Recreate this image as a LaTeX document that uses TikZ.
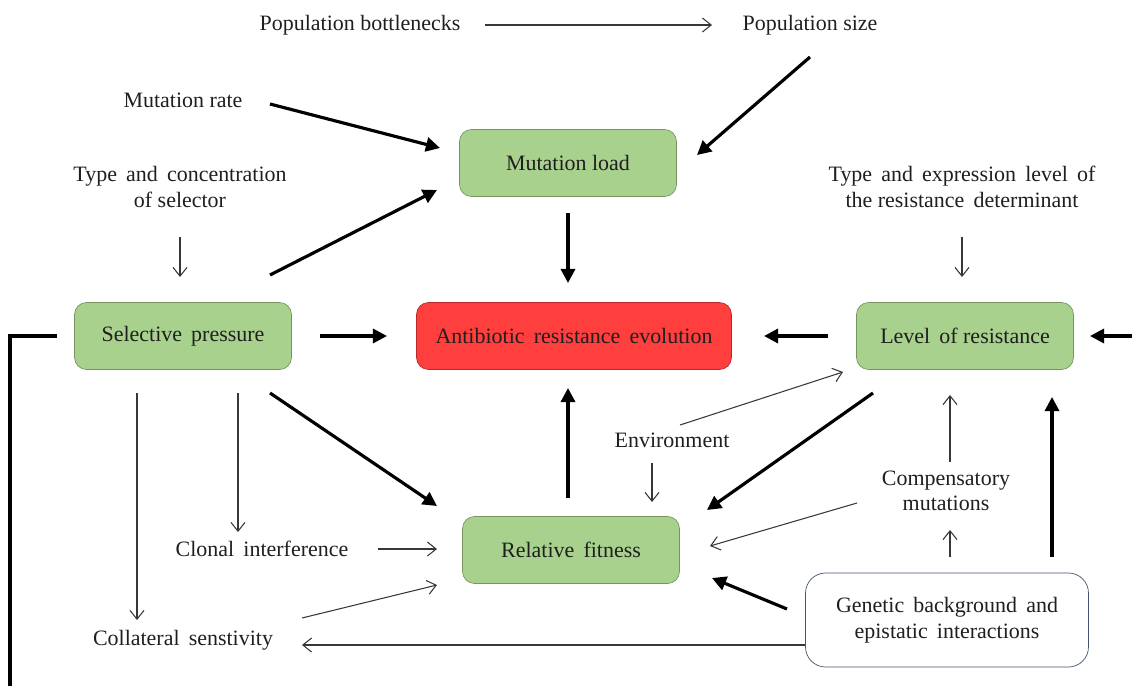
\documentclass[tikz,border=0pt]{standalone}
\usepackage{fontspec}
\setmainfont{Liberation Serif}
\usetikzlibrary{arrows.meta, positioning}
\definecolor{boxgreen}{RGB}{169,209,142}
\definecolor{boxgreenline}{RGB}{118,148,92}
\definecolor{boxred}{RGB}{255,62,62}
\definecolor{boxredline}{RGB}{185,40,40}
\definecolor{boxblueline}{RGB}{68,84,110}
\definecolor{thinline}{RGB}{55,55,55}

\begin{document}
\begin{tikzpicture}[x=0.02cm, y=-0.02cm,
    every node/.style={font=\fontsize{12.5}{14.5}\selectfont, text=black!88},
    factor/.style={align=center, inner sep=1pt},
    greenbox/.style={rectangle, rounded corners=0.24cm, draw=boxgreenline, fill=boxgreen, minimum width=4.34cm, minimum height=1.34cm},
    redbox/.style={greenbox, draw=boxredline, fill=boxred, minimum width=6.3cm},
    whitebox/.style={rectangle, rounded corners=0.4cm, draw=boxblueline, fill=white, align=center, minimum width=5.66cm, minimum height=1.88cm},
    thinarrow/.style={-{Straight Barb[length=5pt,width=8pt]}, line width=0.6pt, draw=thinline},
    thickarrow/.style={-{Triangle[length=8pt,width=8pt]}, line width=1.8pt},
    loopline/.style={-, line width=1.8pt}]
    \useasboundingbox (0,0) rectangle (1132,686);

    \node[factor] (popb) at (360, 25) {Population bottlenecks};
    \node[factor] (pops) at (810, 25) {Population size};
    \node[factor] (mrate) at (183, 100) {Mutation rate};
    \node[factor] (selector) at (180, 187) {Type\, and\, concentration\\of selector};
    \node[factor] (determ) at (962, 187) {Type\, and\, expression\, level\, of\\the resistance\, determinant};
    \node[greenbox] (mload) at (568, 163) {Mutation load};
    \node[greenbox] (selpress) at (183, 336) {Selective\, pressure};
    \node[redbox] (are) at (574, 336) {Antibiotic\, resistance\, evolution};
    \node[greenbox] (level) at (965, 336) {Level\, of resistance};
    \node[factor] (envir) at (672, 440) {Environment};
    \node[factor] (comp) at (946, 491) {Compensatory\\mutations};
    \node[factor] (clonal) at (262, 549) {Clonal\, interference};
    \node[greenbox] (relfit) at (571, 550) {Relative\, fitness};
    \node[factor] (collat) at (183, 640) {Collateral\, senstivity};
    \node[whitebox] (genetic) at (947, 620) {Genetic\, background\, and\\epistatic\, interactions};
    \coordinate (rightin) at (1132, 336);
    \coordinate (loopend) at (10, 686);

    \draw[thinarrow] ([shift={(125,0)}]popb.center) -- ([shift={(-98,0)}]pops.center);
    \draw[thickarrow] ([shift={(87,4)}]mrate.center) -- ([shift={(-128,-15)}]mload.center);
    \draw[thickarrow] ([shift={(0,32)}]pops.center) -- ([shift={(129,-8)}]mload.center);
    \draw[thickarrow] ([shift={(87,-61)}]selpress.center) -- ([shift={(-131,27)}]mload.center);
    \draw[thickarrow] ([shift={(0,50)}]mload.center) -- ([shift={(-6,-53)}]are.center);
    \draw[thinarrow] ([shift={(0,50)}]selector.center) -- ([shift={(-3,-59)}]selpress.center);
    \draw[thinarrow] ([shift={(0,50)}]determ.center) -- ([shift={(-3,-59)}]level.center);
    \draw[thickarrow] ([shift={(137,0)}]selpress.center) -- ([shift={(-187,0)}]are.center);
    \draw[thickarrow] ([shift={(-137,0)}]level.center) -- ([shift={(190,0)}]are.center);
    \draw[thickarrow] (rightin) -- ([shift={(125,0)}]level.center);
    \draw[loopline] ([shift={(-126,0)}]selpress.center) -| (loopend);

    \draw[thinarrow] ([shift={(55,57)}]selpress.center) -- ([shift={(-24,-17)}]clonal.center);
    \draw[thinarrow] ([shift={(-46,57)}]selpress.center) -- ([shift={(-46,-20)}]collat.center);
    \draw[thickarrow] ([shift={(87,57)}]selpress.center) -- ([shift={(-134,-44)}]relfit.center);
    \draw[thickarrow] ([shift={(-3,-52)}]relfit.center) -- ([shift={(-6,52)}]are.center);
    \draw[thinarrow] ([shift={(8,-15)}]envir.center) -- ([shift={(-122,36)}]level.center);
    \draw[thinarrow] ([shift={(-20,23)}]envir.center) -- ([shift={(81,-48)}]relfit.center);
    \draw[thickarrow] ([shift={(-92,57)}]level.center) -- ([shift={(136,-40)}]relfit.center);
    \draw[thinarrow] ([shift={(-89,12)}]comp.center) -- ([shift={(139,-4)}]relfit.center);
    \draw[thinarrow] ([shift={(4,-29)}]comp.center) -- ([shift={(-15,59)}]level.center);
    \draw[thinarrow] ([shift={(3,-63)}]genetic.center) -- ([shift={(4,39)}]comp.center);
    \draw[thickarrow] ([shift={(105,-63)}]genetic.center) -- ([shift={(87,61)}]level.center);
    \draw[thickarrow] ([shift={(-160,-11)}]genetic.center) -- ([shift={(141,28)}]relfit.center);
    \draw[thinarrow] ([shift={(-142,25)}]genetic.center) -- ([shift={(119,5)}]collat.center);
    \draw[thinarrow] ([shift={(116,0)}]clonal.center) -- ([shift={(-134,-1)}]relfit.center);
    \draw[thinarrow] ([shift={(119,-22)}]collat.center) -- ([shift={(-134,35)}]relfit.center);
\end{tikzpicture}
\end{document}
